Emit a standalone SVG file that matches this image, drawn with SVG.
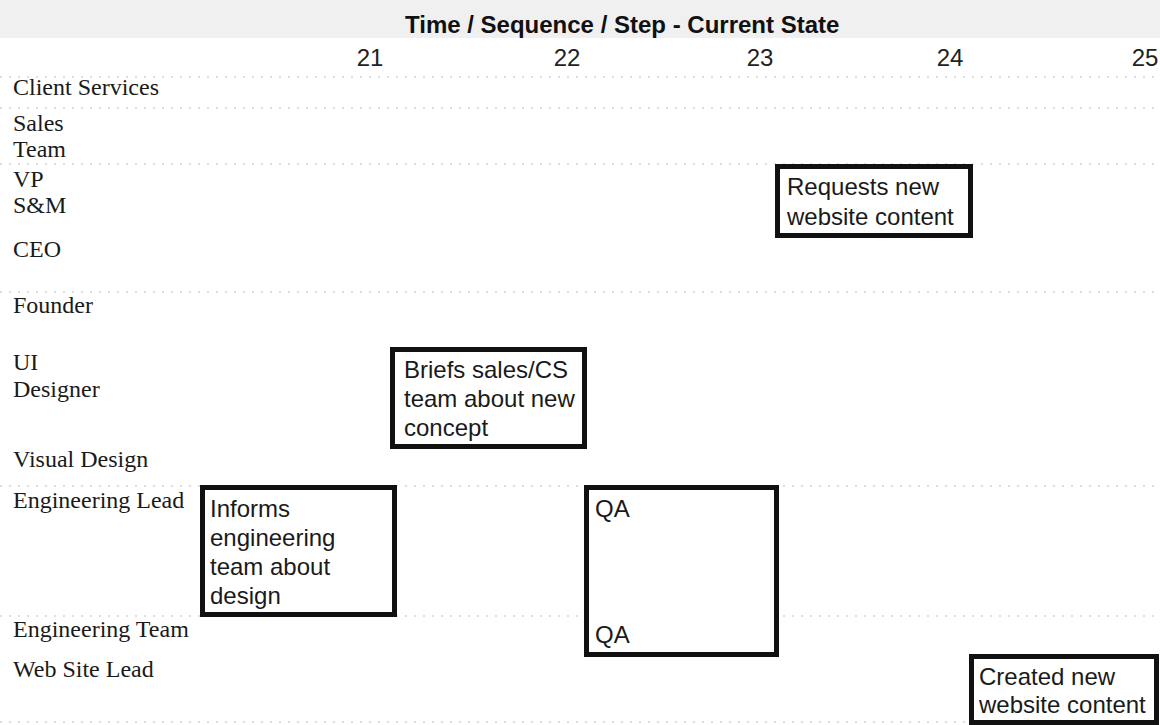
<svg xmlns="http://www.w3.org/2000/svg" width="1160" height="725" viewBox="0 0 1160 725">
<style>
.title{font-family:"Liberation Sans",Arial,sans-serif;font-weight:bold;font-size:24px;fill:#111}
.num{font-family:"Liberation Sans",Arial,sans-serif;font-size:24px;fill:#222;text-anchor:middle}
.lane{font-family:"Liberation Serif","Times New Roman",serif;font-size:24px;fill:#1a1a1a}
.box{fill:#fff;stroke:#111;stroke-width:5}
.bt{font-family:"Liberation Sans",Arial,sans-serif;font-size:24px;fill:#1a1a1a}
.sep{stroke:#d4d4d4;stroke-width:1.5;stroke-dasharray:2 7;fill:none}
</style>
<rect x="0" y="0" width="1160" height="725" fill="#fff"/>
<rect x="0" y="0" width="1160" height="38" fill="#f0f0f0"/>
<g id="separators">
<line class="sep" x1="0" y1="77" x2="1160" y2="77"/>
<line class="sep" x1="0" y1="108" x2="1160" y2="108"/>
<line class="sep" x1="0" y1="164" x2="1160" y2="164"/>
<line class="sep" x1="0" y1="292" x2="1160" y2="292"/>
<line class="sep" x1="0" y1="486" x2="1160" y2="486"/>
<line class="sep" x1="0" y1="616" x2="1160" y2="616"/>
<line class="sep" x1="0" y1="722" x2="1160" y2="722"/>
</g>
<g id="header">
<text class="title" x="405" y="33">Time / Sequence / Step - Current State</text>
<text class="num" x="370" y="66">21</text>
<text class="num" x="567" y="66">22</text>
<text class="num" x="760" y="66">23</text>
<text class="num" x="950" y="66">24</text>
<text class="num" x="1145" y="66">25</text>
</g>
<g id="lanes">
<text class="lane" x="13" y="95">Client Services</text>
<text class="lane" x="13" y="131">Sales</text>
<text class="lane" x="13" y="157">Team</text>
<text class="lane" x="13" y="187">VP</text>
<text class="lane" x="13" y="213">S&amp;M</text>
<text class="lane" x="13" y="257">CEO</text>
<text class="lane" x="13" y="313">Founder</text>
<text class="lane" x="13" y="370">UI</text>
<text class="lane" x="13" y="397">Designer</text>
<text class="lane" x="13" y="467">Visual Design</text>
<text class="lane" x="13" y="508">Engineering Lead</text>
<text class="lane" x="13" y="637">Engineering Team</text>
<text class="lane" x="13" y="677">Web Site Lead</text>
</g>
<g id="connectors"></g>
<g id="node-requests">
<rect class="box" x="777.5" y="166.5" width="193" height="69"/>
<text class="bt" x="787" y="195">Requests new</text>
<text class="bt" x="787" y="225">website content</text>
</g>
<g id="node-briefs">
<rect class="box" x="392.5" y="349.5" width="192" height="97"/>
<text class="bt" x="404" y="378">Briefs sales/CS</text>
<text class="bt" x="404" y="407">team about new</text>
<text class="bt" x="404" y="436">concept</text>
</g>
<g id="node-informs">
<rect class="box" x="202.5" y="487.5" width="192" height="127"/>
<text class="bt" x="210" y="517">Informs</text>
<text class="bt" x="210" y="546">engineering</text>
<text class="bt" x="210" y="575">team about</text>
<text class="bt" x="210" y="604">design</text>
</g>
<g id="node-qa">
<rect class="box" x="586.5" y="487.5" width="190" height="167"/>
<text class="bt" x="595" y="517">QA</text>
<text class="bt" x="595" y="643">QA</text>
</g>
<g id="node-created">
<rect class="box" x="971.5" y="656.5" width="185" height="66"/>
<text class="bt" x="979" y="685">Created new</text>
<text class="bt" x="979" y="713">website content</text>
</g>
</svg>
